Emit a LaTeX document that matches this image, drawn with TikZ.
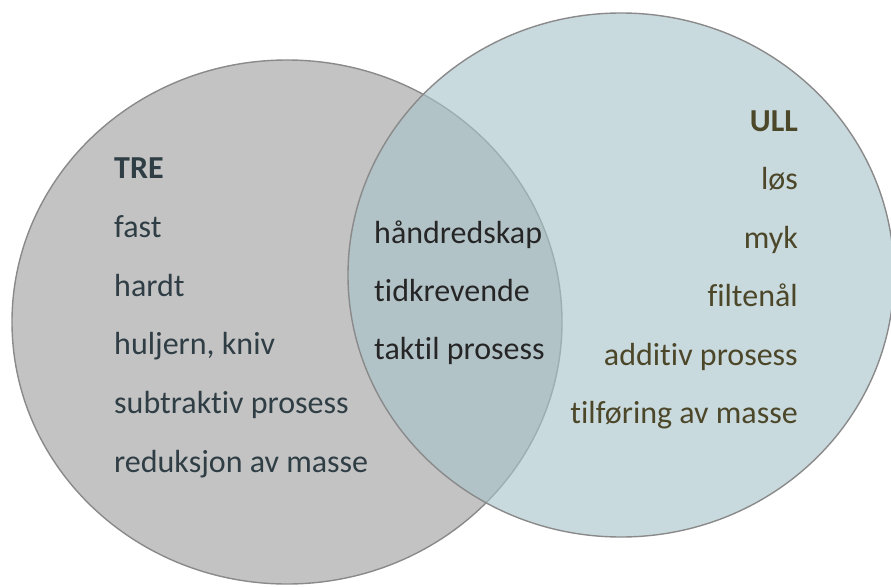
\documentclass[tikz,border=0pt]{standalone}
\usepackage{fontspec}
\setmainfont[Ligatures=NoCommon]{Carlito}
\usepackage{tikz}
\usetikzlibrary{positioning}

\definecolor{treFill}{RGB}{195,195,195}
\definecolor{ullFill}{RGB}{169,196,204}
\definecolor{rimGray}{RGB}{138,138,138}
\definecolor{treText}{RGB}{47,61,69}
\definecolor{ullText}{RGB}{76,71,41}
\definecolor{midText}{RGB}{38,38,38}

\tikzset{
  set/.style={draw=rimGray,line width=1.4pt},
  word/.style={inner sep=0pt,font=\fontsize{32}{38}\selectfont},
  treword/.style={word,anchor=base west,text=treText},
  ullword/.style={word,anchor=base east,text=ullText},
  midword/.style={word,anchor=base west,text=midText}
}

\begin{document}
\begin{tikzpicture}[x=1pt,y=-1pt]
\useasboundingbox (0,0) rectangle (891,586);
\draw[set,fill=treFill] (287,322) ellipse (275 and 262);
\draw[set,fill=ullFill,fill opacity=0.63] (621,275) ellipse (273 and 262);

\node[treword] (tre) at (114,178) {\textbf{TRE}};
\node[treword] (fast) at (114,237) {fast};
\node[treword] (hardt) at (114,296) {hardt};
\node[treword] (huljern) at (114,354) {huljern, kniv};
\node[treword] (subtr) at (114,413) {subtraktiv prosess};
\node[treword] (reduk) at (114,472) {reduksjon av masse};

\node[midword] (hand) at (374,243) {håndredskap};
\node[midword] (tid) at (374,301) {tidkrevende};
\node[midword] (taktil) at (374,359) {taktil prosess};

\node[ullword] (ull) at (798,131) {\textbf{ULL}};
\node[ullword] (los) at (798,189) {løs};
\node[ullword] (myk) at (798,248) {myk};
\node[ullword] (filt) at (798,306) {filtenål};
\node[ullword] (addit) at (798,365) {additiv prosess};
\node[ullword] (tilf) at (798,423) {tilføring av masse};
\end{tikzpicture}
\end{document}
